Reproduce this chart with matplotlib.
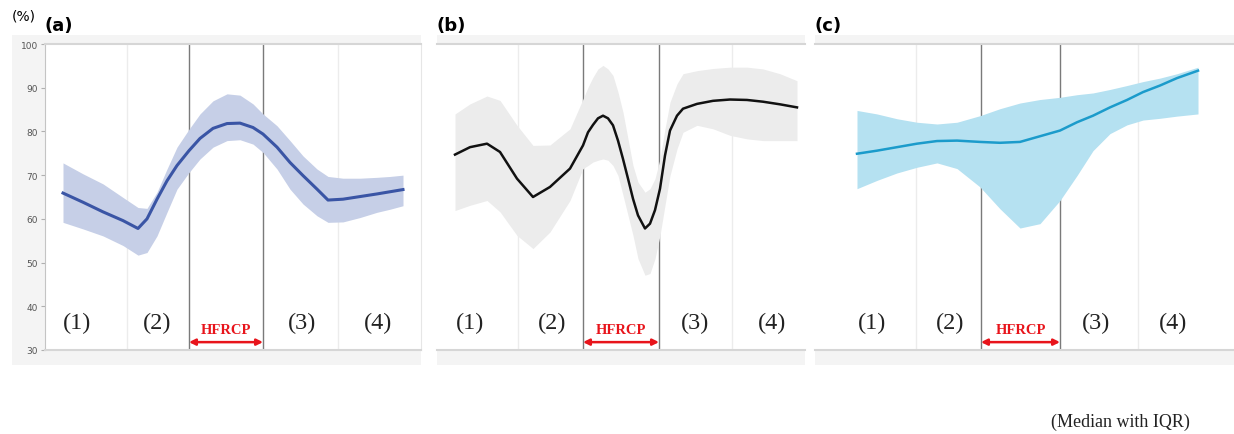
import matplotlib.pyplot as plt
from matplotlib.patches import Rectangle

# --- data (x: time position in arbitrary units, y: %) ---
xa = [18, 38, 58, 78, 93, 102, 112, 122, 132, 144, 155, 168, 182, 195, 208,
      218, 232, 245, 258, 272, 283, 298, 315, 332, 345, 358]
med_a = [65.9, 63.8, 61.6, 59.6, 57.8, 60.0, 64.5, 68.7, 72.2, 75.6, 78.4, 80.7,
         81.8, 81.9, 80.9, 79.4, 76.4, 72.9, 69.9, 66.8, 64.3, 64.5, 65.1, 65.7,
         66.2, 66.7]
q3_a = [72.8, 70.3, 68.0, 64.9, 62.6, 62.4, 66.1, 71.4, 76.4, 80.5, 84.0, 87.0,
        88.6, 88.3, 86.3, 84.0, 81.3, 77.9, 74.4, 71.4, 69.7, 69.3, 69.3, 69.5,
        69.7, 70.0]
q1_a = [59.2, 57.7, 56.1, 53.9, 51.7, 52.3, 56.1, 61.5, 66.8, 70.6, 73.7, 76.4,
        77.9, 78.1, 77.1, 75.2, 71.4, 66.8, 63.4, 60.7, 59.2, 59.3, 60.3, 61.5,
        62.2, 63.0]

xb = [18, 33, 50, 63, 80, 96, 113, 133, 146, 151, 156, 161, 166, 171, 176,
      181, 186, 191, 196, 201, 208, 213, 218, 223, 228, 233, 240, 246, 260,
      276, 293, 310, 326, 343, 360]
med_b = [74.7, 76.4, 77.2, 75.3, 69.2, 65.0, 67.3, 71.5, 76.8, 79.8, 81.5, 83.0,
         83.6, 83.0, 81.4, 77.9, 73.7, 69.2, 64.6, 60.8, 57.8, 58.9, 62.0, 66.9,
         74.5, 80.2, 83.6, 85.2, 86.3, 87.0, 87.3, 87.2, 86.8, 86.2, 85.5]
q3_b = [84.0, 86.3, 88.1, 87.1, 81.4, 76.8, 76.9, 80.6, 87.4, 90.1, 92.4, 94.3,
        95.1, 94.3, 92.8, 89.0, 84.4, 78.3, 72.2, 68.4, 66.1, 66.9, 69.2, 73.7,
        80.6, 86.7, 90.9, 93.2, 93.9, 94.4, 94.7, 94.7, 94.3, 93.2, 91.6]
q1_b = [61.9, 63.1, 64.2, 61.6, 56.2, 53.2, 57.0, 64.2, 71.5, 72.2, 73.0, 73.4,
        73.7, 73.4, 72.2, 69.9, 65.4, 60.8, 56.2, 50.9, 47.1, 47.5, 50.9, 56.2,
        63.1, 69.9, 76.0, 79.8, 81.4, 80.6, 79.1, 78.3, 77.9, 77.9, 77.9]

xc = [42, 62, 82, 102, 122, 142, 165, 185, 205, 225, 245, 262, 278, 295, 312,
      328, 345, 362, 383]
med_c = [74.9, 75.6, 76.4, 77.2, 77.8, 77.9, 77.6, 77.4, 77.6, 78.9, 80.2, 82.1,
         83.6, 85.5, 87.2, 89.0, 90.5, 92.2, 93.9]
q3_c = [84.8, 84.0, 82.9, 82.1, 81.7, 82.1, 83.6, 85.2, 86.5, 87.3, 87.8, 88.4,
        88.8, 89.6, 90.5, 91.4, 92.2, 93.2, 94.7]
q1_c = [66.9, 68.8, 70.5, 71.8, 72.8, 71.5, 67.3, 62.3, 57.9, 58.9, 64.2, 69.9,
        75.6, 79.5, 81.5, 82.6, 83.0, 83.5, 84.0]

# phase boundaries: light, HFRCP start, HFRCP end, light
bounds_a = [82, 144, 218, 293]
bounds_b = [81, 146, 222, 295]
bounds_c = [101, 166, 245, 323]

phase_labels = ['(1)', '(2)', '(3)', '(4)']
yticks = [30, 40, 50, 60, 70, 80, 90, 100]

W, H = 1234, 435
dpi = 100
fig = plt.figure(figsize=(W / dpi, H / dpi), dpi=dpi)

serif = ['Liberation Serif', 'DejaVu Serif']

panels = [
    # letter, x, med, q3, q1, bounds, left px, right px, line col, fill col, label x
    ('(a)', xa, med_a, q3_a, q1_a, bounds_a, 45, 421, '#3a55a5', '#c6cfe7',
     [32, 112, 257, 333]),
    ('(b)', xb, med_b, q3_b, q1_b, bounds_b, 437, 805, '#111111', '#ececec',
     [33, 115, 258, 335]),
    ('(c)', xc, med_c, q3_c, q1_c, bounds_c, 815, 1234, '#1b9bcb', '#b5e1f1',
     [57, 135, 281, 358]),
]

for i, (letter, x, med, q3, q1, bnd, l, r, lc, fc, lx) in enumerate(panels):
    # light grey frame behind the plot area
    bg_left = 12 if i == 0 else l
    fig.add_artist(Rectangle((bg_left / W, (H - 366) / H), (r - bg_left) / W, 330 / H,
                             transform=fig.transFigure, facecolor='#f4f4f4',
                             edgecolor='none', zorder=-10))
    ax = fig.add_axes([l / W, (H - 351) / H, (r - l) / W, 306 / H])
    ax.set_zorder(1)
    ax.set_facecolor('white')
    ax.set_xlim(0, r - l)
    ax.set_ylim(30, 100)

    for j, b in enumerate(bnd):
        if j in (1, 2):
            ax.axvline(b, color='#7a7a7a', lw=1.0, zorder=1)
        else:
            ax.axvline(b, color='#ececec', lw=1.0, zorder=1)

    ax.fill_between(x, q1, q3, color=fc, lw=0, zorder=2)
    ax.plot(x, med, color=lc, lw=2.2 if i == 0 else 1.8, zorder=3,
            solid_joinstyle='round')

    for t, px in zip(phase_labels, lx):
        ax.text(px, 36.4, t, ha='center', va='center', fontsize=17.5,
                family=serif, color='#222222')
    ax.text((bnd[1] + bnd[2]) / 2, 34.6, 'HFRCP', ha='center', va='center',
            fontsize=10.5, family=serif, color='#e8141b', fontweight='bold')
    ax.annotate('', xy=(bnd[1], 31.8), xytext=(bnd[2], 31.8),
                arrowprops=dict(arrowstyle='<|-|>', color='#e8141b', lw=1.8,
                                mutation_scale=9, shrinkA=0, shrinkB=0))

    for s in ['left', 'right']:
        ax.spines[s].set_visible(False)
    for s in ['top', 'bottom']:
        ax.spines[s].set_color('#d6d6d6')
        ax.spines[s].set_linewidth(1.5)
    ax.set_xticks([])
    if i == 0:
        ax.spines['left'].set_visible(True)
        ax.spines['left'].set_color('#c4c4c4')
        ax.spines['right'].set_visible(True)
        ax.spines['right'].set_color('#e6e6e6')
        ax.set_yticks(yticks)
        ax.tick_params(axis='y', labelsize=6.5, labelcolor='#555555',
                       color='#b0b0b0', length=3, width=0.8, pad=2)
    else:
        ax.set_yticks([])

    fig.text(l / W, 1 - 26 / H, letter, fontsize=13,
             fontweight='bold', ha='left', va='center', family='DejaVu Sans')

fig.text(12 / W, 1 - 17 / H, '(%)', fontsize=10, ha='left', va='center',
         family='DejaVu Sans')
fig.text(1190 / W, 1 - 422 / H, '(Median with IQR)', fontsize=13,
         ha='right', va='center', family=serif, color='#222222')

fig.savefig('out.png', dpi=dpi)
